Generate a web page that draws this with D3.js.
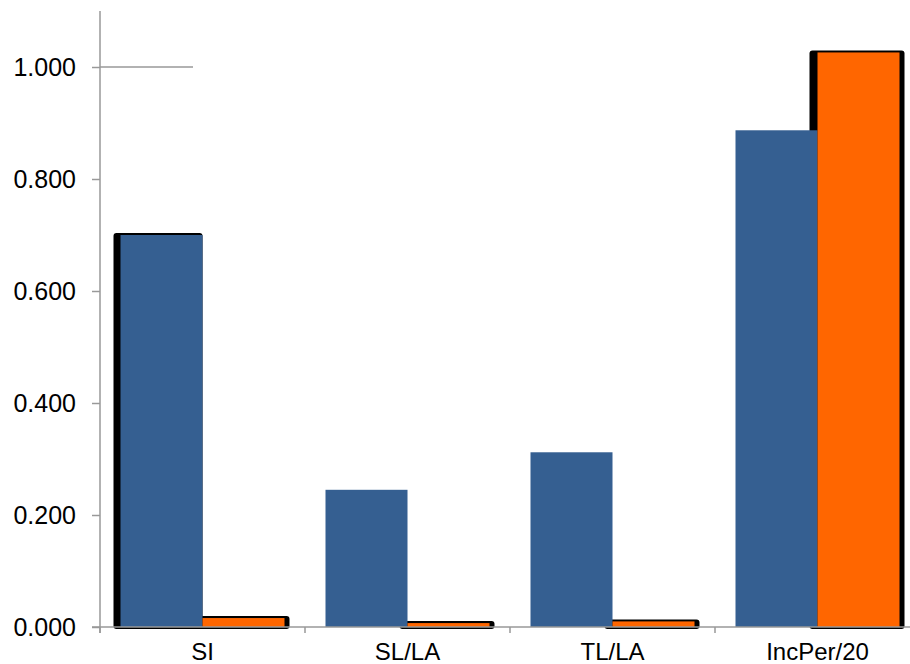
<!DOCTYPE html>
<html>
<head>
<meta charset="utf-8">
<script src="https://cdn.jsdelivr.net/npm/d3@7"></script>
<style>
  body { margin: 0; background: #fff; }
  text { font-family: "Liberation Sans", Arial, sans-serif; fill: #000; }
</style>
</head>
<body>
<div id="chart"></div>
<script>
const categories = ['SI', 'SL/LA', 'TL/LA', 'IncPer/20'];
const seriesNames = ['Series 1', 'Series 2'];
const series1 = [0.700, 0.245, 0.312, 0.887];
const series2 = [0.016, 0.007, 0.010, 1.026];
const yTicks = [0, 0.2, 0.4, 0.6, 0.8, 1.0];

const colors = ['#355f91', '#ff6600'];

const width = 910;
const height = 664;
const plotLeft = 100;
const plotTop = 11;
const plotBottom = 627;

const svg = d3.select('#chart')
  .append('svg')
  .attr('width', width)
  .attr('height', height);

const y = d3.scaleLinear()
  .domain([0, 1.1])
  .range([plotBottom, plotTop]);

const x = d3.scaleBand()
  .domain(categories)
  .range([plotLeft, 920])
  .paddingInner(0.2)
  .paddingOuter(0.1);

const xSub = d3.scaleBand()
  .domain(seriesNames)
  .range([0, x.bandwidth()]);

const rows = categories.map((c, i) => ({
  cat: c,
  values: [
    {name: seriesNames[0], value: series1[i], color: colors[0]},
    {name: seriesNames[1], value: series2[i], color: colors[1]}
  ]
}));

// axis lines go underneath the bars
const gridColor = '#999';

svg.append('line')
  .attr('x1', plotLeft).attr('x2', plotLeft)
  .attr('y1', plotTop).attr('y2', plotBottom + 6)
  .attr('stroke', gridColor).attr('stroke-width', 1.5);

// the lone 1.000 line
svg.append('line')
  .attr('x1', plotLeft).attr('x2', 193)
  .attr('y1', y(1.0)).attr('y2', y(1.0))
  .attr('stroke', gridColor).attr('stroke-width', 1.5);

const yAxis = svg.append('g')
  .attr('transform', `translate(${plotLeft},0)`)
  .call(d3.axisLeft(y).tickValues(yTicks).tickFormat(d3.format('.3f')).tickSize(8).tickPadding(16));
yAxis.select('.domain').remove();
yAxis.selectAll('line').attr('stroke', gridColor).attr('stroke-width', 1.5);
yAxis.selectAll('text')
  .style('font-family', '"Liberation Sans", Arial, sans-serif')
  .style('font-size', '25px')
  .attr('fill', '#000');

// category boundary ticks
svg.append('g')
  .selectAll('line')
  .data(categories)
  .enter()
  .append('line')
  .attr('x1', d => x(d) - x.step() * 0.1)
  .attr('x2', d => x(d) - x.step() * 0.1)
  .attr('y1', plotBottom)
  .attr('y2', plotBottom + 6)
  .attr('stroke', gridColor)
  .attr('stroke-width', 1.5);

const groups = svg.append('g')
  .selectAll('g')
  .data(rows)
  .enter()
  .append('g')
  .attr('transform', d => `translate(${x(d.cat)},0)`);

// black drop shadows behind some bars
const hasShadow = (cat, s) => s.name === seriesNames[1] || (cat === 'SI' && s.name === seriesNames[0]);

groups.selectAll('rect.shadow')
  .data(d => d.values.map(v => Object.assign({cat: d.cat}, v)).filter(v => hasShadow(v.cat, v)))
  .enter()
  .append('rect')
  .attr('class', 'shadow')
  .attr('x', d => xSub(d.name) - (d.name === seriesNames[1] ? 8 : 7))
  .attr('y', d => y(d.value) - 2)
  .attr('width', d => xSub.bandwidth() + (d.name === seriesNames[1] ? 13 : 7))
  .attr('height', d => plotBottom - y(d.value) + 4)
  .attr('rx', 3)
  .attr('fill', '#000');

groups.selectAll('rect.bar')
  .data(d => d.values)
  .enter()
  .append('rect')
  .attr('class', 'bar')
  .attr('x', d => xSub(d.name))
  .attr('y', d => y(d.value))
  .attr('width', xSub.bandwidth())
  .attr('height', d => plotBottom - y(d.value))
  .attr('fill', d => d.color);

// axis line over the bar bottoms
svg.append('line')
  .attr('x1', plotLeft - 8).attr('x2', 920)
  .attr('y1', plotBottom).attr('y2', plotBottom)
  .attr('stroke', gridColor).attr('stroke-width', 1.5);

svg.append('g')
  .selectAll('text')
  .data(categories)
  .enter()
  .append('text')
  .attr('x', d => x(d) + x.bandwidth() / 2)
  .attr('y', 660)
  .attr('text-anchor', 'middle')
  .style('font-size', '24px')
  .text(d => d);
</script>
</body>
</html>
